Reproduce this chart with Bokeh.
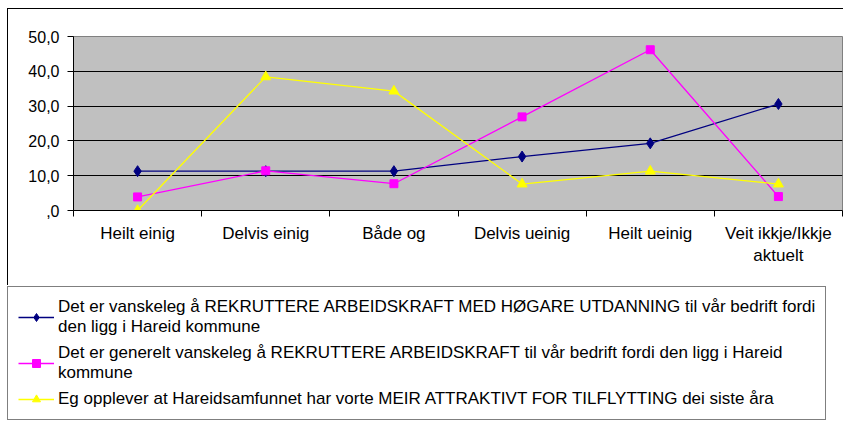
from bokeh.plotting import figure
from bokeh.layouts import column
from bokeh.models import FixedTicker, Legend, LegendItem, Range1d
from bokeh.embed import file_html
from bokeh.resources import INLINE

# ---- data ----
categories = ["Heilt einig", "Delvis einig", "Både og", "Delvis ueinig", "Heilt ueinig", "Veit ikkje/Ikkje\naktuelt"]
hogare_utdanning = [11.3, 11.3, 11.3, 15.5, 19.3, 30.6]
generelt = [3.9, 11.4, 7.7, 26.9, 46.2, 4.0]
attraktivt = [0.0, 38.4, 34.3, 7.6, 11.3, 7.6]
y_ticks = [0, 10, 20, 30, 40, 50]
y_tick_labels = [",0", "10,0", "20,0", "30,0", "40,0", "50,0"]
series_labels = [
    "Det er vanskeleg å REKRUTTERE ARBEIDSKRAFT MED HØGARE UTDANNING til vår bedrift fordi\nden ligg i Hareid kommune",
    "Det er generelt vanskeleg å REKRUTTERE ARBEIDSKRAFT til vår bedrift fordi den ligg i Hareid\nkommune",
    "Eg opplever at Hareidsamfunnet har vorte MEIR ATTRAKTIVT FOR TILFLYTTING dei siste åra",
]
series_colors = ["#000080", "#FF00FF", "#FFFF00"]
series_markers = ["diamond", "square", "triangle"]
series_sizes = [11, 8, 10]
all_series = [hogare_utdanning, generelt, attraktivt]

FONT = "Liberation Sans"
n = len(categories)
xs = [i + 0.5 for i in range(n)]

# ---------------- chart ----------------
p = figure(width=836, height=277, output_backend="svg", toolbar_location=None,
           x_range=Range1d(0, n), y_range=Range1d(0, 50))
p.frame_align = False
p.styles = {"border-top": "1px solid black", "border-left": "1px solid black"}
p.min_border_left = 65
p.min_border_top = 27
p.min_border_right = 2
p.min_border_bottom = 76
p.background_fill_color = "#C0C0C0"
p.border_fill_color = "white"
p.outline_line_color = "#808080"

p.xgrid.visible = False
p.ygrid.ticker = FixedTicker(ticks=y_ticks[1:-1])
p.ygrid.grid_line_color = "black"
p.ygrid.grid_line_width = 1

p.yaxis.ticker = FixedTicker(ticks=y_ticks, minor_ticks=[])
p.yaxis.major_label_overrides = {t: l for t, l in zip(y_ticks, y_tick_labels)}
p.yaxis.major_tick_out = 6
p.yaxis.major_tick_in = 0
p.yaxis.minor_tick_line_color = None
p.yaxis.major_label_standoff = 8
p.yaxis.major_label_text_font = FONT
p.yaxis.major_label_text_font_size = "16px"
p.yaxis.major_label_text_color = "black"
p.yaxis.axis_line_color = "black"
p.yaxis.major_tick_line_color = "black"

p.xaxis.ticker = FixedTicker(ticks=xs, minor_ticks=list(range(n + 1)))
p.xaxis.major_label_overrides = {x: c for x, c in zip(xs, categories)}
p.xaxis.major_tick_out = 0
p.xaxis.major_tick_in = 0
p.xaxis.minor_tick_out = 6
p.xaxis.minor_tick_in = 0
p.xaxis.minor_tick_line_color = "black"
p.xaxis.major_label_standoff = 7
p.xaxis.major_label_text_font = FONT
p.xaxis.major_label_text_font_size = "17px"
p.xaxis.major_label_text_line_height = 1.2
p.xaxis.major_label_text_color = "black"
p.xaxis.axis_line_color = "black"

for ys, c, mk, sz in zip(all_series, series_colors, series_markers, series_sizes):
    p.line(xs, ys, line_color=c, line_width=1.3)
    p.scatter(xs, ys, marker=mk, size=sz, fill_color=c, line_color=c)

# ---------------- legend panel ----------------
# same series drawn in a second figure whose x range lies outside the data,
# so only their legend entries show
q = figure(width=838, height=149, output_backend="svg", toolbar_location=None,
           x_axis_type=None, y_axis_type=None, x_range=Range1d(n + 10, n + 11),
           y_range=Range1d(0, 50), min_border=0)
q.frame_align = False
q.styles = {"margin-left": "-1px"}
q.xgrid.visible = False
q.ygrid.visible = False
q.outline_line_color = None
q.background_fill_color = "white"
q.border_fill_color = "white"

items = []
for lab, ys, c, mk, sz in zip(series_labels, all_series, series_colors, series_markers, series_sizes):
    lr = q.line(xs, ys, line_color=c, line_width=1.3)
    sr = q.scatter(xs, ys, marker=mk, size=sz - 1, fill_color=c, line_color=c)
    items.append(LegendItem(label=lab, renderers=[lr, sr]))

legend = Legend(items=items, location="top_left")
legend.label_text_font = FONT
legend.label_text_font_size = "17px"
legend.label_text_line_height = 1.12
legend.label_text_color = "black"
legend.glyph_width = 36
legend.glyph_height = 20
legend.label_standoff = 4
legend.spacing = 6
legend.padding = 10
legend.margin = 1
legend.border_line_color = "black"
legend.border_line_width = 1
legend.background_fill_color = "white"
legend.background_fill_alpha = 1.0
q.add_layout(legend, "center")

layout = column(p, q, spacing=0)
layout.styles = {"margin-top": "8px", "margin-left": "7px"}

open("out.html", "w").write(file_html(layout, INLINE))
